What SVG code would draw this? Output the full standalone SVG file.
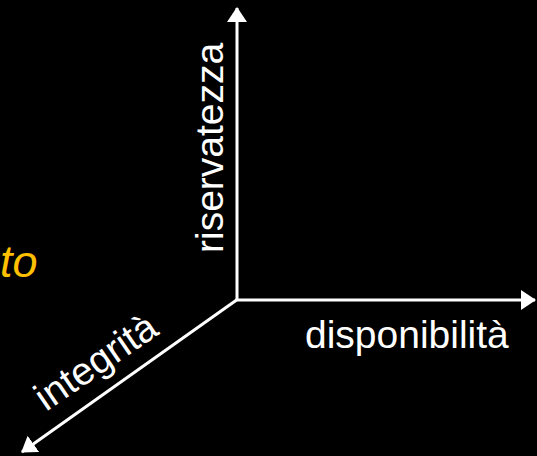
<svg xmlns="http://www.w3.org/2000/svg" width="537" height="456" viewBox="0 0 537 456">
<defs>
<marker id="arr" markerUnits="userSpaceOnUse" markerWidth="16" markerHeight="20" refX="14" refY="10" orient="auto">
<path d="M0,0 L15,10 L0,20 Z" fill="#fff"/>
</marker>
<style>
.ax{stroke:#fff;stroke-width:3;fill:none;marker-end:url(#arr)}
.lbl{font-family:"Liberation Sans",Arial,sans-serif;font-size:39px;fill:#fff}
.or{font-family:"Liberation Sans",Arial,sans-serif;font-size:45px;font-style:italic;fill:#FFC000}
</style>
</defs>
<rect width="537" height="456" fill="#000"/>
<g id="connectors">
<line class="ax" x1="237" y1="300" x2="237" y2="8"/>
<line class="ax" x1="235.5" y1="300" x2="535" y2="300"/>
<line class="ax" x1="238" y1="299" x2="22" y2="452"/>
</g>
<g id="riservatezza"><text class="lbl" transform="translate(223,253) rotate(-90)">riservatezza</text></g>
<g id="disponibilita"><text class="lbl" x="305" y="348">disponibilità</text></g>
<g id="integrita"><text class="lbl" transform="translate(46,412) rotate(-34.5)">integrità</text></g>
<g id="orange"><text class="or" x="0" y="277">to</text></g>
</svg>
